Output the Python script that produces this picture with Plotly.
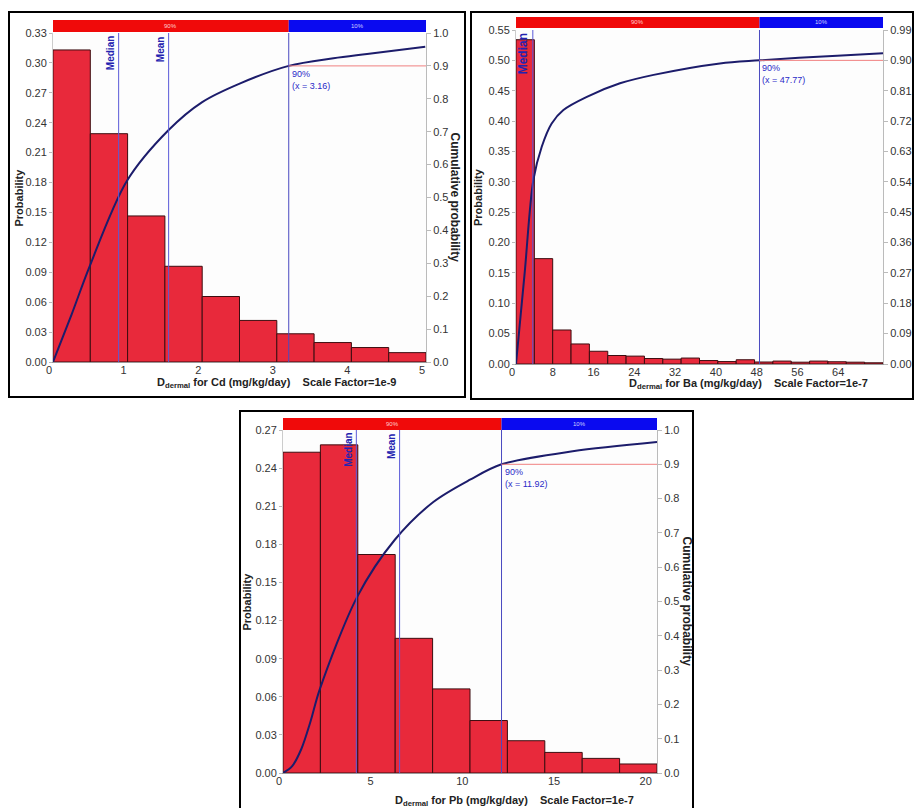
import plotly.graph_objects as go

# ---------------- data ----------------
# Cd
cd_bin_start = 0.0
cd_bin_width = 0.5
cd_prob = [0.313, 0.229, 0.1465, 0.096, 0.0657, 0.0417, 0.0283, 0.0195, 0.0145, 0.0094]
cd_cum_x = [0, 0.25, 0.49, 0.99, 1.55, 2.0, 2.51, 3.16, 3.76, 4.21, 4.99]
cd_cum_y = [0, 0.145, 0.29, 0.55, 0.705, 0.79, 0.847, 0.90, 0.923, 0.936, 0.958]
cd_median, cd_mean, cd_p90 = 0.88, 1.55, 3.16
cd_xticks = [0, 1, 2, 3, 4, 5]
cd_yticks = [0.00, 0.03, 0.06, 0.09, 0.12, 0.15, 0.18, 0.21, 0.24, 0.27, 0.30, 0.33]
cd_cticks = [0.0, 0.1, 0.2, 0.3, 0.4, 0.5, 0.6, 0.7, 0.8, 0.9, 1.0]

# Ba
ba_bin_start = 0.0
ba_bin_width = 3.6
ba_prob = [0.534, 0.1735, 0.056, 0.033, 0.021, 0.014, 0.013, 0.009, 0.008, 0.0098,
           0.0057, 0.004, 0.007, 0.0033, 0.0048, 0.003, 0.0048, 0.0037, 0.003, 0.002]
ba_cum_x = [0, 1.7, 3.4, 5.05, 7.0, 9.3, 13.9, 20.4, 27, 40, 47.77, 63, 72]
ba_cum_y = [0, 0.27, 0.545, 0.644, 0.713, 0.753, 0.792, 0.832, 0.857, 0.891, 0.90, 0.914, 0.921]
ba_median, ba_p90 = 3.3, 47.77
ba_xticks = [0, 8, 16, 24, 32, 40, 48, 56, 64]
ba_yticks = [0.00, 0.05, 0.10, 0.15, 0.20, 0.25, 0.30, 0.35, 0.40, 0.45, 0.50, 0.55]
ba_cticks = [0.00, 0.09, 0.18, 0.27, 0.36, 0.45, 0.54, 0.63, 0.72, 0.81, 0.90, 0.99]

# Pb
pb_bin_start = 0.0
pb_bin_width = 2.04
pb_prob = [0.2525, 0.2583, 0.172, 0.106, 0.0662, 0.0413, 0.0254, 0.0162, 0.0115, 0.0071]
pb_cum_x = [0, 0.5, 1.0, 1.5, 2.0, 4.06, 6.1, 8.2, 10.2, 11.92, 15.8, 20.4]
pb_cum_y = [0, 0.02, 0.07, 0.15, 0.243, 0.515, 0.68, 0.79, 0.855, 0.90, 0.938, 0.965]
pb_median, pb_mean, pb_p90 = 4.0, 6.36, 11.92
pb_xticks = [0, 5, 10, 15, 20]
pb_yticks = [0.00, 0.03, 0.06, 0.09, 0.12, 0.15, 0.18, 0.21, 0.24, 0.27]
pb_cticks = [0.0, 0.1, 0.2, 0.3, 0.4, 0.5, 0.6, 0.7, 0.8, 0.9, 1.0]

W, H = 915, 808
def fx(px): return px / W
def fy(py): return 1 - py / H

FONT = "Arial, Liberation Sans, sans-serif"
BAR_COLOR = "#e8293b"
BAR_LINE = "#3d0d10"
CUM_COLOR = "#1c1c6b"
VLINE = "#5a5ad8"
LBL = "#2a2ac8"

panels = [
    dict(name="Cd", start=cd_bin_start, bw=cd_bin_width, prob=cd_prob, cx=cd_cum_x, cy=cd_cum_y,
         median=cd_median, mean=cd_mean, p90=cd_p90, xt=cd_xticks, yt=cd_yticks, ct=cd_cticks,
         yfmt=".2f", cfmt=".1f", cmax=1.0, ymax=0.33,
         box=(9, 12, 465, 397), plot=(53, 33, 426, 362), band=(20, 32),
         xtitle="<b>D<sub>dermal</sub> for Cd (mg/kg/day)&nbsp;&nbsp;&nbsp;&nbsp;Scale Factor=1e-9</b>",
         xtitle_pos=(276, 383), ytitle_x=18, rtitle_x=455, msize=10),
    dict(name="Ba", start=ba_bin_start, bw=ba_bin_width, prob=ba_prob, cx=ba_cum_x, cy=ba_cum_y,
         median=ba_median, mean=None, p90=ba_p90, xt=ba_xticks, yt=ba_yticks, ct=ba_cticks,
         yfmt=".2f", cfmt=".2f", cmax=0.99, ymax=0.55,
         box=(471, 12, 913, 399), plot=(516, 30, 883, 364), band=(17, 28),
         xtitle="<b>D<sub>dermal</sub> for Ba (mg/kg/day)&nbsp;&nbsp;&nbsp;&nbsp;Scale Factor=1e-7</b>",
         xtitle_pos=(748, 384), ytitle_x=478, rtitle_x=None, msize=12),
    dict(name="Pb", start=pb_bin_start, bw=pb_bin_width, prob=pb_prob, cx=pb_cum_x, cy=pb_cum_y,
         median=pb_median, mean=pb_mean, p90=pb_p90, xt=pb_xticks, yt=pb_yticks, ct=pb_cticks,
         yfmt=".2f", cfmt=".1f", cmax=1.0, ymax=0.27,
         box=(240, 411, 693, 809), plot=(283, 430, 657, 773), band=(418, 430),
         xtitle="<b>D<sub>dermal</sub> for Pb (mg/kg/day)&nbsp;&nbsp;&nbsp;&nbsp;Scale Factor=1e-7</b>",
         xtitle_pos=(514, 801), ytitle_x=246, rtitle_x=687, msize=10),
]

fig = go.Figure()
layout = dict(width=W, height=H, margin=dict(l=0, r=0, t=0, b=0, autoexpand=False),
              paper_bgcolor="white", plot_bgcolor="#fdfdfd", showlegend=False,
              font=dict(family=FONT, size=11, color="#333"))
shapes, annotations = [], []

for i, p in enumerate(panels):
    xa = "x" if i == 0 else f"x{i+1}"
    ya = "y" if i == 0 else f"y{2*i+1}"
    yc = f"y{2*i+2}"
    xkey = "xaxis" if i == 0 else f"xaxis{i+1}"
    ykey = "yaxis" if i == 0 else f"yaxis{2*i+1}"
    ckey = f"yaxis{2*i+2}"
    n = len(p["prob"])
    xmin = p["start"]
    xmax = p["start"] + n * p["bw"]
    centers = [p["start"] + (k + 0.5) * p["bw"] for k in range(n)]
    L, T, R, B = p["plot"]

    fig.add_trace(go.Bar(x=centers, y=p["prob"], width=p["bw"], xaxis=xa, yaxis=ya,
                         marker=dict(color=BAR_COLOR, line=dict(color=BAR_LINE, width=1))))
    fig.add_trace(go.Scatter(x=p["cx"], y=p["cy"], xaxis=xa, yaxis=yc, mode="lines",
                             line=dict(color=CUM_COLOR, width=2, shape="spline", smoothing=0.9)))

    layout[xkey] = dict(domain=[fx(L), fx(R)], anchor=ya, range=[xmin, xmax], automargin=False,
                        tickvals=p["xt"], ticktext=[str(t) for t in p["xt"]],
                        showgrid=False, zeroline=False, showline=True, linecolor="#999",
                        ticks="", ticklabelshift=-4, ticklabelstandoff=-2,
                        tickfont=dict(size=11, color="#333"))
    layout[ykey] = dict(domain=[fy(B), fy(T)], anchor=xa, range=[0, p["ymax"]], automargin=False,
                        tickvals=p["yt"], tickformat=p["yfmt"], showgrid=False, zeroline=False,
                        showline=True, linecolor="#ccc", ticks="outside", ticklen=3, tickcolor="#bbb",
                        tickfont=dict(size=11, color="#333"))
    layout[ckey] = dict(overlaying=ya, side="right", anchor=xa, range=[0, p["cmax"]], automargin=False,
                        tickvals=p["ct"], tickformat=p["cfmt"], showgrid=False, zeroline=False,
                        showline=True, linecolor="#bbb", ticks="outside", ticklen=4, tickcolor="#bbb",
                        tickfont=dict(size=11, color="#333"))

    # top red / blue band
    b0, b1 = p["band"]
    shapes.append(dict(type="rect", xref=xa, yref="paper", x0=xmin, x1=p["p90"],
                       y0=fy(b1), y1=fy(b0), fillcolor="#f00a0a", line=dict(width=0), layer="above"))
    shapes.append(dict(type="rect", xref=xa, yref="paper", x0=p["p90"], x1=xmax,
                       y0=fy(b1), y1=fy(b0), fillcolor="#0a0af0", line=dict(width=0), layer="above"))
    annotations.append(dict(xref=xa, yref="paper", x=(xmin + p["p90"]) / 2, y=fy((b0 + b1) / 2),
                            xanchor="center", yanchor="middle",
                            text="90%", showarrow=False, font=dict(size=6, color="#ffd0d0")))
    annotations.append(dict(xref=xa, yref="paper", x=(p["p90"] + xmax) / 2, y=fy((b0 + b1) / 2),
                            xanchor="center", yanchor="middle",
                            text="10%", showarrow=False, font=dict(size=6, color="#d0d0ff")))

    # vertical lines
    shapes.append(dict(type="line", xref=xa, yref=f"{ya} domain", x0=p["p90"], x1=p["p90"],
                       y0=0, y1=1, line=dict(color="#4a4ac0", width=1)))
    shapes.append(dict(type="line", xref=xa, yref=yc, x0=p["p90"], x1=xmax, y0=0.9, y1=0.9,
                       line=dict(color="#f08080", width=1)))
    for val, txt in [(p["median"], "Median"), (p["mean"], "Mean")]:
        if val is None:
            continue
        shapes.append(dict(type="line", xref=xa, yref=f"{ya} domain", x0=val, x1=val,
                           y0=0, y1=1, line=dict(color=VLINE, width=1)))
        annotations.append(dict(xref=xa, yref="paper", x=val, y=fy(T + 1), xanchor="right",
                                yanchor="top", textangle=-90, text=f"<b>{txt}</b>", showarrow=False,
                                font=dict(size=p["msize"], color="#2323b0"), xshift=-1))
    annotations.append(dict(xref=xa, yref=yc, x=p["p90"], y=0.9, xanchor="left", yanchor="top",
                            align="left", text=f"90%<br>(x = {p['p90']:.2f})", showarrow=False,
                            xshift=1, yshift=-1, font=dict(size=9, color=LBL)))

    # axis titles
    annotations.append(dict(xref="paper", yref="paper", x=fx(p["ytitle_x"]), y=fy((T + B) / 2),
                            xanchor="center", yanchor="middle",
                            text="<b>Probability</b>", textangle=-90, showarrow=False,
                            font=dict(size=11, color="#222")))
    if p["rtitle_x"] is not None:
        annotations.append(dict(xref="paper", yref="paper", x=fx(p["rtitle_x"]), y=fy((T + B) / 2),
                                xanchor="center", yanchor="middle",
                                text="<b>Cumulative probability</b>", textangle=90, showarrow=False,
                                font=dict(size=12, color="#222")))
    annotations.append(dict(xref="paper", yref="paper", x=fx(p["xtitle_pos"][0]), y=fy(p["xtitle_pos"][1]),
                            xanchor="center", yanchor="middle",
                            text=p["xtitle"], showarrow=False, font=dict(size=11, color="#222")))

    # panel border
    bx0, by0, bx1, by1 = p["box"]
    shapes.append(dict(type="rect", xref="paper", yref="paper", x0=fx(bx0), x1=fx(bx1),
                       y0=fy(by1), y1=fy(by0), line=dict(color="black", width=2)))

layout["shapes"] = shapes
layout["annotations"] = annotations
fig.update_layout(**layout)
fig.write_html("out.html", config={"displayModeBar": False},
               post_script="document.body.style.margin='0';document.body.style.overflow='hidden';")
